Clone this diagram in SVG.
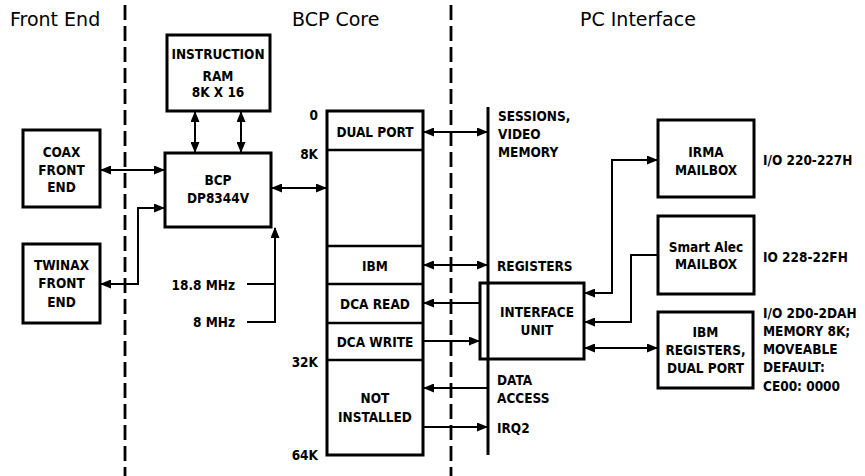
<svg xmlns="http://www.w3.org/2000/svg" width="865" height="476" viewBox="0 0 865 476">
<style>
text{font-family:"DejaVu Sans Condensed","Liberation Sans",Arial,sans-serif;fill:#000}
.t{font-size:19px;font-family:"DejaVu Sans","Liberation Sans",sans-serif}
.l{font-size:13.5px;font-weight:bold}
.c{text-anchor:middle}
.r{text-anchor:end}
.box{fill:#fff;stroke:#000;stroke-width:3}
.div{stroke:#000;stroke-width:2.5}
.ln{fill:none;stroke:#000;stroke-width:2}
.bus{stroke:#000;stroke-width:3}
.dash{stroke:#000;stroke-width:2.8;stroke-dasharray:15 6}
.ar{marker-end:url(#ah)}
.ar2{marker-start:url(#ah);marker-end:url(#ah)}
</style>
<defs>
<marker id="ah" markerUnits="userSpaceOnUse" markerWidth="11" markerHeight="9" refX="10" refY="4.5" orient="auto-start-reverse" viewBox="0 0 11 9">
<path d="M0,0 L11,4.5 L0,9 z" fill="#000"/>
</marker>
</defs>
<rect width="865" height="476" fill="#fff"/>
<g id="separators">
<line class="dash" x1="125" y1="5" x2="125" y2="476"/>
<line class="dash" x1="451" y1="5" x2="451" y2="476"/>
</g>
<g id="titles">
<text class="t" x="10" y="26">Front End</text>
<text class="t" x="292" y="26">BCP Core</text>
<text class="t" x="580" y="26">PC Interface</text>
</g>
<g id="connectors">
<line class="ln ar2" x1="195" y1="112" x2="195" y2="152"/>
<line class="ln ar2" x1="241" y1="112" x2="241" y2="152"/>
<line class="ln ar2" x1="101" y1="170" x2="164" y2="170"/>
<path class="ln ar2" d="M101,284 H138 V208 H164"/>
<path class="ln" d="M247,284 H275"/>
<path class="ln ar" d="M247,322 H275 V228"/>
<line class="ln ar2" x1="272" y1="188" x2="326" y2="188"/>
<line class="ln ar2" x1="424" y1="132" x2="487" y2="132"/>
<line class="ln ar2" x1="424" y1="265" x2="487" y2="265"/>
<path class="ln ar" d="M480,303 H424"/>
<path class="ln ar" d="M424,341 H479"/>
<path class="ln ar" d="M488,388 H424"/>
<path class="ln ar" d="M424,427 H487"/>
<path class="ln ar2" d="M585,293 H612 V160 H657"/>
<path class="ln ar" d="M657,255 H631 V322 H585"/>
<line class="ln ar2" x1="585" y1="348" x2="657" y2="348"/>
</g>
<g id="instruction-ram">
<rect class="box" x="167" y="35" width="103" height="76"/>
<text class="l c" x="218" y="59">INSTRUCTION</text>
<text class="l c" x="218" y="81">RAM</text>
<text class="l c" x="218" y="97">8K X 16</text>
</g>
<g id="bcp">
<rect class="box" x="165" y="153" width="106" height="74"/>
<text class="l c" x="218" y="185">BCP</text>
<text class="l c" x="218" y="203">DP8344V</text>
</g>
<g id="coax">
<rect class="box" x="23" y="130" width="77" height="77"/>
<text class="l c" x="61.5" y="157">COAX</text>
<text class="l c" x="61.5" y="175">FRONT</text>
<text class="l c" x="61.5" y="192">END</text>
</g>
<g id="twinax">
<rect class="box" x="23" y="244" width="77" height="79"/>
<text class="l c" x="61.5" y="270">TWINAX</text>
<text class="l c" x="61.5" y="288">FRONT</text>
<text class="l c" x="61.5" y="307">END</text>
</g>
<g id="clocks">
<text class="l r" x="235" y="290">18.8 MHz</text>
<text class="l r" x="235" y="327">8 MHz</text>
</g>
<g id="memory-map">
<rect class="box" x="327" y="111" width="96" height="344"/>
<line class="div" x1="327" y1="150" x2="423" y2="150"/>
<line class="div" x1="327" y1="246" x2="423" y2="246"/>
<line class="div" x1="327" y1="284" x2="423" y2="284"/>
<line class="div" x1="327" y1="323" x2="423" y2="323"/>
<line class="div" x1="327" y1="360" x2="423" y2="360"/>
<text class="l c" x="375" y="137">DUAL PORT</text>
<text class="l c" x="375" y="271">IBM</text>
<text class="l c" x="375" y="309">DCA READ</text>
<text class="l c" x="375" y="347">DCA WRITE</text>
<text class="l c" x="375" y="403">NOT</text>
<text class="l c" x="375" y="422">INSTALLED</text>
<text class="l r" x="318" y="120">0</text>
<text class="l r" x="318" y="159">8K</text>
<text class="l r" x="318" y="367">32K</text>
<text class="l r" x="318" y="460">64K</text>
</g>
<g id="pc-bus">
<line class="bus" x1="488" y1="107" x2="488" y2="455"/>
<text class="l" x="498" y="121">SESSIONS,</text>
<text class="l" x="498" y="139">VIDEO</text>
<text class="l" x="498" y="157">MEMORY</text>
<text class="l" x="497" y="271">REGISTERS</text>
<text class="l" x="497" y="385">DATA</text>
<text class="l" x="497" y="403">ACCESS</text>
<text class="l" x="497" y="433">IRQ2</text>
</g>
<g id="interface-unit">
<rect x="480" y="283" width="104" height="76" fill="none" stroke="#000" stroke-width="3"/>
<text class="l c" x="537" y="317">INTERFACE</text>
<text class="l c" x="537" y="335">UNIT</text>
</g>
<g id="irma-mailbox">
<rect class="box" x="658" y="120" width="96" height="77"/>
<text class="l c" x="706" y="157">IRMA</text>
<text class="l c" x="706" y="175">MAILBOX</text>
<text class="l" x="763" y="165">I/O 220-227H</text>
</g>
<g id="smart-alec-mailbox">
<rect class="box" x="658" y="216" width="96" height="78"/>
<text class="l c" x="706" y="252">Smart Alec</text>
<text class="l c" x="706" y="269">MAILBOX</text>
<text class="l" x="763" y="262">IO 228-22FH</text>
</g>
<g id="ibm-registers">
<rect class="box" x="658" y="312" width="95" height="76"/>
<text class="l c" x="705.5" y="337">IBM</text>
<text class="l c" x="705.5" y="355">REGISTERS,</text>
<text class="l c" x="705.5" y="373">DUAL PORT</text>
<text class="l" x="763" y="318">I/O 2D0-2DAH</text>
<text class="l" x="763" y="336">MEMORY 8K;</text>
<text class="l" x="763" y="354">MOVEABLE</text>
<text class="l" x="763" y="372">DEFAULT:</text>
<text class="l" x="763" y="391">CE00: 0000</text>
</g>
</svg>
